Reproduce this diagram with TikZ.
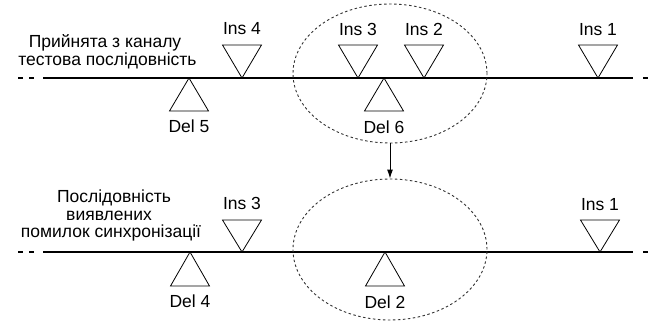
\documentclass[tikz,border=0pt]{standalone}
\usepackage{fontspec}
\setmainfont{Liberation Sans}
\usepackage{tikz}
\usetikzlibrary{arrows.meta,shapes.geometric}

\tikzset{
  lbl/.style={anchor=base, inner sep=0pt, font=\fontsize{17.5}{19}\selectfont},
  axis/.style={line width=2pt},
  tri/.style={line width=0.8pt, line join=miter},
  grp/.style={ellipse, draw=black!80, line width=0.9pt, dash pattern=on 2.5pt off 2.5pt, inner sep=0pt, minimum width=194pt}
}

\begin{document}
\begin{tikzpicture}[x=1pt, y=-1pt]
\useasboundingbox (0,0) rectangle (651,321);

% received test sequence
\node[lbl] (txta) at (105,47.5) {Прийнята з каналу};
\node[lbl] (txtb) at (107.5,65.5) {тестова послідовність};
\draw[axis] (43,78) -- (633,78);
\draw[axis, dash pattern=on 5pt off 6pt] (18,78) -- (35,78);
\draw[axis] (643,78) -- (648,78);

\draw[tri] (242,78) -- (222.5,45) -- (261.5,45) -- cycle;
\draw[tri] (358,78) -- (338.5,45) -- (377.5,45) -- cycle;
\draw[tri] (424,78) -- (404.5,45) -- (443.5,45) -- cycle;
\draw[tri] (598,78) -- (578.5,45) -- (617.5,45) -- cycle;
\draw[tri] (189,78) -- (169.5,111) -- (208.5,111) -- cycle;
\draw[tri] (384,78) -- (364.5,111) -- (403.5,111) -- cycle;

\node[lbl] (ins4) at (242,35) {Ins 4};
\node[lbl] (ins3) at (358,36) {Ins 3};
\node[lbl] (ins2) at (424,36) {Ins 2};
\node[lbl] (ins1) at (598,36) {Ins 1};
\node[lbl] (del5) at (189,132) {Del 5};
\node[lbl] (del6) at (384,133) {Del 6};

\node[grp, minimum height=139pt] (grpa) at (390,73.5) {};

% detected sync errors
\node[lbl] (txtc) at (114,202) {Послідовність};
\node[lbl] (txtd) at (109,220.5) {виявлених};
\node[lbl] (txte) at (111,237.5) {помилок синхронізації};
\draw[axis] (43,252) -- (633,252);
\draw[axis, dash pattern=on 5pt off 6pt] (18,252) -- (35,252);
\draw[axis] (643,252) -- (648,252);

\draw[tri] (242,252) -- (222.5,220) -- (261.5,220) -- cycle;
\draw[tri] (600,252) -- (580.5,220) -- (619.5,220) -- cycle;
\draw[tri] (190,252) -- (170.5,286) -- (209.5,286) -- cycle;
\draw[tri] (385,252) -- (365.5,286) -- (404.5,286) -- cycle;

\node[lbl] (insb3) at (242,209) {Ins 3};
\node[lbl] (insb1) at (600,210) {Ins 1};
\node[lbl] (del4) at (190,307) {Del 4};
\node[lbl] (del2) at (385,308) {Del 2};

\node[grp, minimum height=141pt] (grpb) at (390,249.5) {};

\draw[-{Latex[length=9pt,width=6pt]}, line width=1pt] (grpa.south) -- (grpb.north);
\end{tikzpicture}
\end{document}
